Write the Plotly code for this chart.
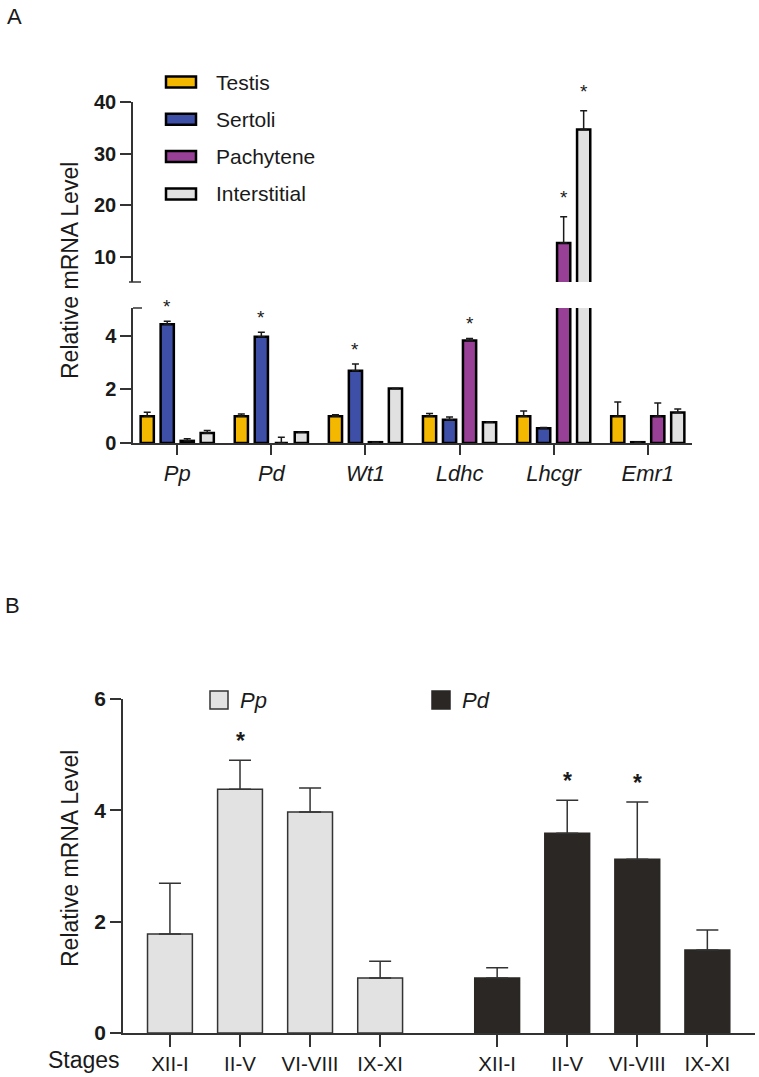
import numpy as np
import plotly.graph_objects as go

W, H = 759, 1077

# panel A data
genes = ['Pp', 'Pd', 'Wt1', 'Ldhc', 'Lhcgr', 'Emr1']
cells = ['Testis', 'Sertoli', 'Pachytene', 'Interstitial']
testis = [1.0, 1.0, 1.0, 1.0, 1.0, 1.0]
testis_err = [0.15, 0.08, 0.05, 0.1, 0.19, 0.53]
sertoli = [4.42, 3.96, 2.69, 0.87, 0.55, 0.03]
sertoli_err = [0.12, 0.17, 0.25, 0.1, 0.03, 0.0]
pachytene = [0.08, 0.0, 0.03, 3.82, 12.7, 1.0]
pachytene_err = [0.08, 0.21, 0.0, 0.07, 5.1, 0.49]
interstitial = [0.37, 0.4, 2.03, 0.77, 34.7, 1.14]
interstitial_err = [0.1, 0.0, 0.0, 0.0, 3.6, 0.13]
sig_a = {'Sertoli': ['Pp', 'Pd', 'Wt1'], 'Pachytene': ['Ldhc', 'Lhcgr'], 'Interstitial': ['Lhcgr']}

# panel B data
stages = ['XII-I', 'II-V', 'VI-VIII', 'IX-XI']
pp_vals = [1.78, 4.38, 3.97, 0.99]
pp_err = [0.91, 0.52, 0.43, 0.3]
pd_vals = [0.99, 3.59, 3.12, 1.49]
pd_err = [0.18, 0.59, 1.03, 0.36]
sig_pp = ['II-V']
sig_pd = ['II-V', 'VI-VIII']

colors_a = {'Testis': '#f5b800', 'Sertoli': '#3d4fa6', 'Pachytene': '#983f96', 'Interstitial': '#e1e1e1'}
series_a = {'Testis': (testis, testis_err), 'Sertoli': (sertoli, sertoli_err),
            'Pachytene': (pachytene, pachytene_err), 'Interstitial': (interstitial, interstitial_err)}

FONT = 'Liberation Sans, Arial, sans-serif'
INK = '#1a1a1a'


def px(x):
    return x / W


def py(y):
    return 1 - y / H


fig = go.Figure()

# panel A: same bars on lower (0-5) and upper (5-40) y axes to get the break
for yax in ['y', 'y2']:
    for c in cells:
        v, e = series_a[c]
        fig.add_trace(go.Bar(
            x=genes, y=v, name=c, xaxis='x', yaxis=yax, showlegend=False,
            marker=dict(color=colors_a[c], line=dict(color='black', width=2.5)),
            error_y=dict(type='data', array=e, arrayminus=[0] * len(e), symmetric=False,
                         color=INK, thickness=1.5, width=3.5),
            offsetgroup=c))

# significance stars for panel A
cell_offset = {c: (i - 1.5) * 0.213 for i, c in enumerate(cells)}
for c, gl in sig_a.items():
    v, e = series_a[c]
    for g in gl:
        i = genes.index(g)
        top = v[i] + e[i]
        yax = 'y2' if top > 5 else 'y'
        fig.add_annotation(x=i + cell_offset[c], y=top, xref='x', yref=yax, text='*',
                           showarrow=False, yanchor='middle', yshift=15 if yax == 'y' else 19,
                           font=dict(size=19, color=INK, family=FONT))

# panel B
pp_x = np.arange(len(stages))
pd_x = pp_x + 4.67
fig.add_trace(go.Bar(
    x=pp_x, y=pp_vals, xaxis='x3', yaxis='y3', width=0.64, showlegend=False, name='Pp',
    marker=dict(color='#e2e2e2', line=dict(color='#333333', width=1.5)),
    error_y=dict(type='data', array=pp_err, arrayminus=[0] * 4, symmetric=False,
                 color='#333333', thickness=1.5, width=11)))
fig.add_trace(go.Bar(
    x=pd_x, y=pd_vals, xaxis='x3', yaxis='y3', width=0.64, showlegend=False, name='Pd',
    marker=dict(color='#2a2724', line=dict(color='#2a2724', width=1.5)),
    error_y=dict(type='data', array=pd_err, arrayminus=[0] * 4, symmetric=False,
                 color='#333333', thickness=1.5, width=11)))

for xs, vals, errs, sig in [(pp_x, pp_vals, pp_err, sig_pp), (pd_x, pd_vals, pd_err, sig_pd)]:
    for s in sig:
        i = stages.index(s)
        fig.add_annotation(x=xs[i], y=vals[i] + errs[i], xref='x3', yref='y3', text='<b>*</b>',
                           showarrow=False, yanchor='middle', yshift=19,
                           font=dict(size=23, color=INK, family=FONT))

axis_common = dict(showline=True, linecolor='#333333', linewidth=1.5, ticks='outside',
                   tickcolor='#333333', tickwidth=1.5, showgrid=False, zeroline=False,
                   automargin=False)
tickfont_a = dict(size=20, color=INK, family=FONT, weight='bold')

fig.update_layout(
    width=W, height=H, margin=dict(l=0, r=0, t=0, b=0, pad=0),
    paper_bgcolor='white', plot_bgcolor='rgba(0,0,0,0)',
    barmode='group', bargap=0.15, bargroupgap=0.34,
    font=dict(family=FONT, color=INK),
    xaxis=dict(domain=[px(133), px(692)], anchor='y', range=[-0.47, 5.47], ticklen=10,
               tickfont=dict(size=22, color=INK, family=FONT, style='italic'), **axis_common),
    yaxis=dict(domain=[py(443), py(308)], anchor='x', range=[0, 5.03], tickvals=[0, 2, 4],
               ticklen=11, tickfont=tickfont_a, **axis_common),
    yaxis2=dict(domain=[py(282), py(102)], anchor='x', range=[5.16, 40], tickvals=[10, 20, 30, 40],
                ticklen=11, tickfont=tickfont_a, **axis_common),
    xaxis3=dict(domain=[px(123), px(755)], anchor='y3', range=[-0.67, 8.35],
                tickvals=list(pp_x) + list(pd_x), ticktext=stages + stages, ticklen=12,
                tickfont=dict(size=20.5, color=INK, family=FONT), **axis_common),
    yaxis3=dict(domain=[py(1033), py(699)], anchor='x3', range=[0, 6], tickvals=[0, 2, 4, 6],
                ticklen=11, tickfont=dict(size=21, color=INK, family=FONT, weight='bold'),
                **axis_common),
)

# break marks on the panel A y axis
fig.add_shape(type='line', xref='paper', yref='paper', x0=px(133), x1=px(142), y0=py(308), y1=py(308),
              line=dict(color='#333333', width=1.5))
fig.add_shape(type='line', xref='paper', yref='paper', x0=px(129), x1=px(141), y0=py(282), y1=py(282),
              line=dict(color='#333333', width=1.5))

# panel A legend
for k, c in enumerate(cells):
    yc = 82 + k * 37.3
    fig.add_shape(type='rect', xref='paper', yref='paper', x0=px(166), x1=px(196),
                  y0=py(yc + 5.5), y1=py(yc - 5.5), fillcolor=colors_a[c],
                  line=dict(color='black', width=2.5))
    fig.add_annotation(x=px(214), y=py(yc), xref='paper', yref='paper', text=c, showarrow=False,
                       xanchor='left', yanchor='middle', font=dict(size=21, color=INK, family=FONT))

# panel B legend
for x0, fill, line, label in [(210, '#e2e2e2', '#333333', 'Pp'), (432, '#2a2724', '#2a2724', 'Pd')]:
    fig.add_shape(type='rect', xref='paper', yref='paper', x0=px(x0), x1=px(x0 + 18),
                  y0=py(709), y1=py(691), fillcolor=fill, line=dict(color=line, width=1.5))
    fig.add_annotation(x=px(x0 + 28), y=py(700), xref='paper', yref='paper', text='<i>%s</i>' % label,
                       showarrow=False, xanchor='left', yanchor='middle',
                       font=dict(size=22, color=INK, family=FONT))

# axis titles, panel letters, stage label
for yc in [271, 859]:
    fig.add_annotation(x=px(70), y=py(yc), xref='paper', yref='paper', text='Relative mRNA Level',
                       textangle=-90, showarrow=False, xanchor='center', yanchor='middle',
                       font=dict(size=23, color=INK, family=FONT))
fig.add_annotation(x=px(5), y=py(16), xref='paper', yref='paper', text='A', showarrow=False,
                   xanchor='left', yanchor='middle', font=dict(size=22, color=INK, family=FONT))
fig.add_annotation(x=px(3), y=py(605), xref='paper', yref='paper', text='B', showarrow=False,
                   xanchor='left', yanchor='middle', font=dict(size=22, color=INK, family=FONT))
fig.add_annotation(x=px(84), y=py(1060), xref='paper', yref='paper', text='Stages', showarrow=False,
                   xanchor='center', yanchor='middle', font=dict(size=23, color=INK, family=FONT))

# drop the default page margin so the figure sits at the window's top-left corner
fig.write_html("out.html", config={'displayModeBar': False},
               post_script="document.body.style.margin='0';")
